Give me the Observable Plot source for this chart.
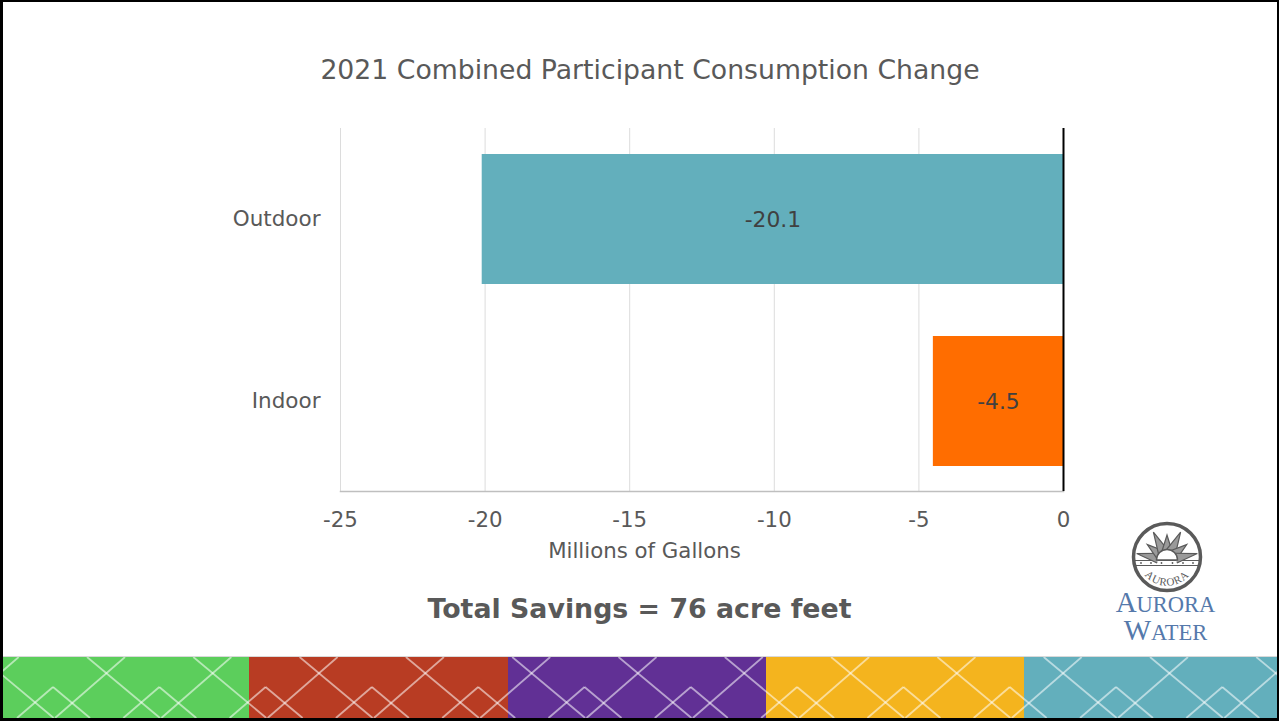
<!DOCTYPE html>
<html><head><meta charset="utf-8">
<script src="https://cdn.jsdelivr.net/npm/d3@7"></script>
<script src="https://cdn.jsdelivr.net/npm/@observablehq/plot@0.6"></script>
<style>
html,body{margin:0;padding:0;background:#fff;overflow:hidden}
#page{position:relative;width:1279px;height:721px;font-family:"DejaVu Sans",sans-serif;overflow:hidden}
#page svg{position:absolute;left:0;top:0}
.t{position:absolute;white-space:nowrap;transform:translate(-50%,-50%);color:#595959}
#frame{position:absolute;left:0;top:0;width:1279px;height:721px;box-sizing:border-box;border:solid #000;border-width:2px 2px 3px 3px;pointer-events:none}
</style></head>
<body><div id="page">
<div class="t" style="left:650px;top:69px;font-size:26.7px">2021 Combined Participant Consumption Change</div>
<div class="t" style="left:644.5px;top:549.5px;font-size:21.3px">Millions of Gallons</div>
<div class="t" style="left:639.5px;top:608px;font-size:26.8px;font-weight:bold">Total Savings = 76 acre feet</div>
<div id="frame"></div>
</div>
<script>
const categories = ["Outdoor", "Indoor"];
const values = [-20.1, -4.5];
const barColors = ["#63afbc", "#ff6d00"];
const xTicks = [-25, -20, -15, -10, -5, 0];
const footerEdges = [3, 249, 508, 766, 1024, 1279];
const footerColors = ["#5cce5c", "#b83c23", "#613095", "#f4b41e", "#63afbc"];

const rows = categories.map((c, i) => ({category: c, value: values[i], color: barColors[i]}));
const page = document.getElementById("page");

const chart = Plot.plot({
  width: 1279, height: 721,
  marginLeft: 340, marginRight: 216, marginTop: 128, marginBottom: 230,
  style: {fontFamily: '"DejaVu Sans",sans-serif', background: "transparent"},
  x: {domain: [-25, 0]},
  y: {domain: categories, range: [128, 492], paddingInner: 0.2857, paddingOuter: 0.1428},
  marks: [
    Plot.ruleX(xTicks.filter(d => d !== 0), {stroke: "#dcdcdc", strokeWidth: 1, strokeOpacity: 1}),
    Plot.barX(rows, {x: "value", y: "category", fill: "color"}),
    Plot.frame({anchor: "bottom", stroke: "#bfbfbf", strokeWidth: 1.5}),
    Plot.ruleX([0], {stroke: "#000", strokeWidth: 2}),
    Plot.text(rows, {x: d => d.value / 2, y: "category", text: d => d.value.toFixed(1), fontSize: 21.8, fill: "#404040", dy: 1}),
    Plot.axisX({ticks: xTicks, tickFormat: d => String(d), tickSize: 0, tickPadding: 20, fontSize: 21.3, color: "#595959", label: null}),
    Plot.axisY({tickSize: 0, tickPadding: 20, fontSize: 21.5, color: "#595959", label: null})
  ]
});
page.insertBefore(chart, page.firstChild);

// footer band with lattice
const deco = d3.select(page).insert("svg", "#frame").attr("width", 1279).attr("height", 721);
const clip = deco.append("clipPath").attr("id", "fc");
clip.append("rect").attr("x", 0).attr("y", 657).attr("width", 1279).attr("height", 62);
deco.append("rect").attr("x", 0).attr("y", 656).attr("width", 1279).attr("height", 1.5).attr("fill", "#d9d9d9");
footerColors.forEach((c, i) => deco.append("rect").attr("x", footerEdges[i]).attr("y", 657)
  .attr("width", footerEdges[i + 1] - footerEdges[i]).attr("height", 62).attr("fill", c));
const lat = deco.append("g").attr("clip-path", "url(#fc)").attr("stroke", "#fff").attr("stroke-opacity", 0.55).attr("stroke-width", 1.8).attr("fill", "none");
for (let k = -1; k < 13; k++) {
  const s = k * 106.3;
  [[87,657,160,718],[125,657,55,718],[53,687,17,718],[53,687,90,718]].forEach(p =>
    lat.append("line").attr("x1", p[0] + s).attr("y1", p[1]).attr("x2", p[2] + s).attr("y2", p[3]));
}

// logo
const logo = deco.append("g").attr("transform", "translate(1167,557)");
const gray = "#5a5a5a";
logo.append("circle").attr("r", 33.5).attr("fill", "none").attr("stroke", gray).attr("stroke-width", 3.5);
logo.append("line").attr("x1", -32).attr("x2", 32).attr("y1", 3.5).attr("y2", 3.5).attr("stroke", gray).attr("stroke-width", 1.2);
logo.append("line").attr("x1", -32).attr("x2", 32).attr("y1", 8.5).attr("y2", 8.5).attr("stroke", gray).attr("stroke-width", 1.2);
[-26,-16,-5.5,5.5,16,26].forEach(x => logo.append("circle").attr("cx", x).attr("cy", 6).attr("r", 0.9).attr("fill", gray));
[-78,-52,-26,0,26,52,78].forEach((a, i) => {
  const len = i % 2 ? 25 : 31;
  logo.append("path").attr("transform", `translate(0,3) rotate(${a})`)
    .attr("d", `M-5,-9L0,${-len}L5,-9`).attr("fill", "#9a9a9a").attr("stroke", gray).attr("stroke-width", 1.2);
});
logo.append("path").attr("d", "M-10.5,3A10.5,10.5 0 0 1 10.5,3Z").attr("fill", "#fff").attr("stroke", gray).attr("stroke-width", 1.4);
const defs = deco.append("defs");
defs.append("path").attr("id", "arc").attr("d", "M-27.5,9A29,29 0 0 0 27.5,9");
logo.append("text").attr("font-family", "Liberation Serif").attr("font-size", 11).attr("fill", gray).attr("letter-spacing", 0.8)
  .append("textPath").attr("href", "#arc").attr("startOffset", "50%").attr("text-anchor", "middle").text("AURORA");
function smallCaps(str, y) {
  const t = deco.append("text").attr("x", 1165.5).attr("y", y).attr("text-anchor", "middle")
    .attr("font-family", "Liberation Serif").attr("fill", "#5579ab");
  t.append("tspan").attr("font-size", 29).text(str[0]);
  t.append("tspan").attr("font-size", 22.5).text(str.slice(1));
}
smallCaps("AURORA", 612);
smallCaps("WATER", 640);
</script>
</body></html>
